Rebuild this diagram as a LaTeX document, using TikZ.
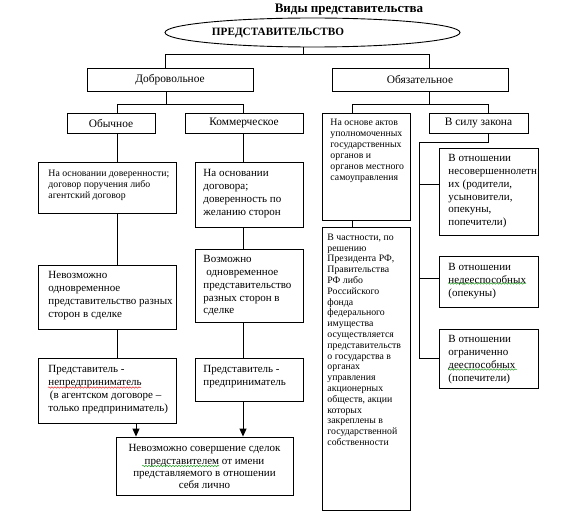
\documentclass[tikz,border=0pt]{standalone}
\usepackage{fontspec}
\setmainfont{Liberation Serif}
\usetikzlibrary{shapes.geometric,arrows.meta,decorations.pathmorphing}
\begin{document}
\begin{tikzpicture}[x=1pt,y=-1pt,
  line width=0.9pt,
  box/.style={draw, line width=0.9pt, inner sep=0pt, rectangle},
  lbl/.style={font=\fontsize{11.4}{13}\selectfont, inner sep=0pt},
  tsmall/.style={font=\fontsize{9.8}{11}\selectfont, inner sep=0pt, align=left, anchor=north west},
  tnorm/.style={font=\fontsize{11}{12.8}\selectfont, inner sep=0pt, align=left, anchor=north west},
  arr/.style={-{Triangle[width=7pt,length=8pt]}},
  squig/.style={line width=0.5pt, decorate, decoration={snake, amplitude=0.7pt, segment length=3pt}},
  spellred/.style={squig, draw={rgb,255:red,230;green,40;blue,40}},
  spellgreen/.style={squig, draw={rgb,255:red,40;green,160;blue,40}}
]
\useasboundingbox[fill=white] (0,0) rectangle (581,532);

% title
\node[font=\bfseries\fontsize{13}{15}\selectfont, inner sep=0pt] (title) at (349,10) {Виды представительства};

% root ellipse
\node[draw, ellipse, line width=0.9pt, minimum width=295pt, minimum height=29pt, inner sep=0pt] (ell) at (312.5,32.5) {};
\node[font=\bfseries\fontsize{11.2}{13}\selectfont, inner sep=0pt] (elltext) at (278,32.5) {ПРЕДСТАВИТЕЛЬСТВО};

% level 1
\node[box, minimum width=166pt, minimum height=23pt] (dobr) at (170,79.5) {};
\node[lbl] (dobrt) at (170,79.5) {Добровольное};
\node[box, minimum width=176pt, minimum height=23pt] (obyaz) at (420,79.5) {};
\node[lbl] (obyazt) at (420,79.5) {Обязательное};

% level 2
\node[box, minimum width=88pt, minimum height=20pt] (obych) at (111,123) {};
\node[lbl] (obycht) at (111,123) {Обычное};
\node[box, minimum width=118pt, minimum height=20pt] (komm) at (244,123) {};
\node[lbl] (kommt) at (244,123) {Коммерческое};
\node[box, minimum width=88pt, minimum height=107pt] (akty) at (366,166.5) {};
\node[tsmall] (aktyt) at (330,118.5) {На основе актов\\уполномоченных\\государственных\\органов и\\органов местного\\самоуправления};
\node[box, minimum width=99pt, minimum height=20pt] (sila) at (478.5,123) {};
\node[lbl] (silat) at (478.5,123) {В силу закона};

% left column
\node[box, minimum width=138pt, minimum height=51pt] (dov) at (107,187.5) {};
\node[tsmall] (dovt) at (48,169.5) {На основании доверенности;\\договор поручения либо\\агентский договор};
\node[box, minimum width=138pt, minimum height=64pt] (nevoz) at (107,297) {};
\node[tnorm] (nevozt) at (48,271) {Невозможно\\одновременное\\представительство разных\\сторон в сделке};
\node[box, minimum width=138pt, minimum height=65pt] (nepred) at (107,390.5) {};
\node[tnorm] (nepredt) at (48,365) {Представитель -\\непредприниматель\\\hspace{1.5pt}(в агентском договоре –\\только предприниматель)};

% middle column
\node[box, minimum width=108pt, minimum height=65pt] (dog) at (249,194.5) {};
\node[tnorm] (dogt) at (203,169) {На основании\\договора;\\доверенность по\\желанию сторон};
\node[box, minimum width=108pt, minimum height=73pt] (voz) at (249,285.5) {};
\node[tnorm] (vozt) at (203,255) {Возможно\\\hspace{3pt}одновременное\\представительство\\разных сторон в\\сделке};
\node[box, minimum width=108pt, minimum height=43pt] (pred) at (249,379.5) {};
\node[tnorm] (predt) at (203,365) {Представитель -\\предприниматель};

% bottom box
\node[box, minimum width=177pt, minimum height=58pt] (final) at (204.5,466) {};
\node[font=\fontsize{11}{12.4}\selectfont, inner sep=0pt, align=center, anchor=north] (finalt) at (204.5,444) {Невозможно совершение сделок\\представителем от имени\\представляемого в отношении\\себя лично};

% right: authorities
\node[box, minimum width=88pt, minimum height=283pt] (chast) at (366,368.5) {};
\node[tsmall, font=\fontsize{9.8}{10.8}\selectfont] (chastt) at (327,233.5) {В частности, по\\решению\\Президента РФ,\\Правительства\\РФ либо\\Российского\\фонда\\федерального\\имущества\\осуществляется\\представительств\\о государства в\\органах\\управления\\акционерных\\обществ, акции\\которых\\закреплены в\\государственной\\собственности};

% right: by law
\node[box, minimum width=99pt, minimum height=87pt] (nes) at (488.5,191.5) {};
\node[tnorm] (nest) at (448,154) {В отношении\\несовершеннолетн\\их (родители,\\усыновители,\\опекуны,\\попечители)};
\node[box, minimum width=99pt, minimum height=51pt] (nedee) at (488.5,281.5) {};
\node[tnorm] (nedeet) at (448,263) {В отношении\\недееспособных\\(опекуны)};
\node[box, minimum width=99pt, minimum height=59pt] (ogr) at (488.5,358.5) {};
\node[tnorm] (ogrt) at (448,335) {В отношении\\ограниченно\\дееспособных\\(попечители)};

% spell-check squiggles under words
\draw[spellred] (48,387.5) -- (141,387.5);
\draw[spellgreen] (142,466) -- (219,466);
\draw[spellgreen] (448,283.5) -- (526,283.5);
\draw[spellgreen] (448,369.5) -- (517,369.5);

% connector coordinates
\coordinate (r0) at (303,54);
\coordinate (b0l) at (165,54);
\coordinate (b0r) at (429,54);
\coordinate (b1m) at (166,104);
\coordinate (b1l) at (117,104);
\coordinate (b1r) at (243,104);
\coordinate (b2l) at (352,104);
\coordinate (b2r) at (488,104);
\coordinate (b3) at (419,142);
\coordinate (s1) at (419,184);
\coordinate (s2) at (419,278);
\coordinate (s3) at (419,358);
\coordinate (a1) at (136,430);

% top tree
\draw (ell.south -| r0) -- (r0);
\draw (b0l |- dobr.north) -- (b0l) -- (b0r) -- (b0r |- obyaz.north);
\draw (b1m |- dobr.south) -- (b1m);
\draw (b1l |- obych.north) -- (b1l) -- (b1r) -- (b1r |- komm.north);
\draw (b0r |- obyaz.south) -- (b0r |- b2l);
\draw (b2l |- akty.north) -- (b2l) -- (b2r) -- (b2r |- sila.north);

% left chain
\draw (b1l |- obych.south) -- (b1l |- dov.north);
\draw (b1l |- dov.south) -- (b1l |- nevoz.north);
\draw (b1l |- nevoz.south) -- (b1l |- nepred.north);
% middle chain
\draw (b1r |- komm.south) -- (b1r |- dog.north);
\draw (b1r |- dog.south) -- (b1r |- voz.north);
\draw (b1r |- voz.south) -- (b1r |- pred.north);
% arrows
\draw[arr] (a1 |- nepred.south) -- (a1 |- final.north);
\draw[arr] (b1r |- pred.south) -- (b1r |- final.north);

% authorities chain
\draw (b2l |- akty.south) -- (b2l |- chast.north);

% by law
\draw (b2r |- sila.south) -- (b2r |- b3) -- (b3) -- (s3);
\draw (s1) -- (s1 -| nes.west);
\draw (s2) -- (s2 -| nedee.west);
\draw (s3) -- (s3 -| ogr.west);
\end{tikzpicture}
\end{document}
